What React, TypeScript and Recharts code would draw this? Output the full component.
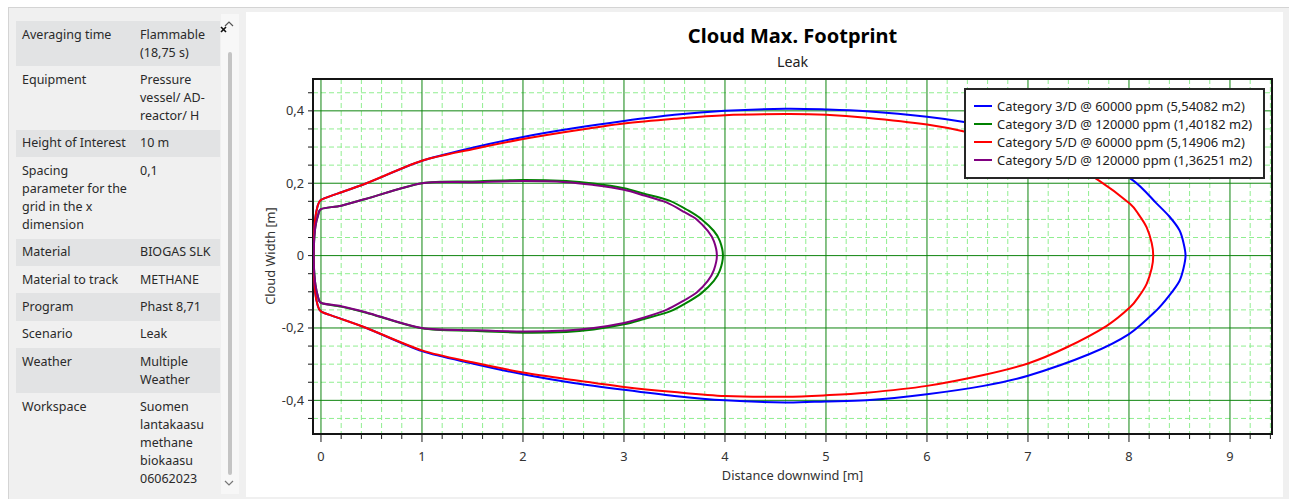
import React from 'react';
import { LineChart, Line, XAxis, YAxis, CartesianGrid, ReferenceArea, Legend } from 'recharts';

const FONT = "'Noto Sans', 'Open Sans', Arial, sans-serif";

// ---- Properties table (left panel) ----
const propertyLines: string[][] = [
  ['Averaging time'],
  ['Equipment'],
  ['Height of Interest'],
  ['Spacing', 'parameter for the', 'grid in the x', 'dimension'],
  ['Material'],
  ['Material to track'],
  ['Program'],
  ['Scenario'],
  ['Weather'],
  ['Workspace'],
];
const valueLines: string[][] = [
  ['Flammable', '(18,75 s)'],
  ['Pressure', 'vessel/ AD-', 'reactor/ H'],
  ['10 m'],
  ['0,1'],
  ['BIOGAS SLK'],
  ['METHANE'],
  ['Phast 8,71'],
  ['Leak'],
  ['Multiple', 'Weather'],
  ['Suomen', 'lantakaasu', 'methane', 'biokaasu', '06062023'],
];

// ---- Chart texts ----
const chartTitle = 'Cloud Max. Footprint';
const chartSubtitle = 'Leak';
const xAxisTitle = 'Distance downwind [m]';
const yAxisTitle = 'Cloud Width [m]';

const seriesNames = [
  'Category 3/D @ 60000 ppm (5,54082 m2)',
  'Category 3/D @ 120000 ppm (1,40182 m2)',
  'Category 5/D @ 60000 ppm (5,14906 m2)',
  'Category 5/D @ 120000 ppm (1,36251 m2)',
];
const seriesColors = ['#0000ff', '#008000', '#ff0000', '#800080'];

// ---- Axes ----
const xDomain: [number, number] = [-0.079, 9.416];
const yDomain: [number, number] = [-0.493, 0.488];
const xMajorTicks = [0, 1, 2, 3, 4, 5, 6, 7, 8, 9];
const xMinorTicks = [
  0, 0.2, 0.4, 0.6, 0.8, 1, 1.2, 1.4, 1.6, 1.8, 2, 2.2, 2.4, 2.6, 2.8, 3, 3.2, 3.4, 3.6, 3.8,
  4, 4.2, 4.4, 4.6, 4.8, 5, 5.2, 5.4, 5.6, 5.8, 6, 6.2, 6.4, 6.6, 6.8, 7, 7.2, 7.4, 7.6, 7.8,
  8, 8.2, 8.4, 8.6, 8.8, 9, 9.2, 9.4,
];
const yMajorTicks = [-0.4, -0.2, 0, 0.2, 0.4];
const yMinorTicks = [
  -0.45, -0.4, -0.35, -0.3, -0.25, -0.2, -0.15, -0.1, -0.05, 0,
  0.05, 0.1, 0.15, 0.2, 0.25, 0.3, 0.35, 0.4, 0.45,
];

// ---- Footprint contours (closed loops, x = downwind, y = width) ----
const cat3d60000X = [
  -0.075, -0.07, -0.058, -0.035, 0, 0.15, 0.45, 1.0, 1.5, 2.0, 2.5, 3.0, 3.5, 4.0, 4.6, 5.0, 5.4, 6.0, 6.4,
  7.0, 7.6, 8.04, 8.27, 8.4, 8.5, 8.54, 8.56,
  8.54, 8.5, 8.4, 8.27, 8.0, 7.61, 7.0, 6.56, 6.0, 5.4, 5.0, 4.6, 4.0, 3.5, 3.0, 2.5, 2.0, 1.5,
  1.0, 0.45, 0.15, 0, -0.035, -0.058, -0.07, -0.075,
];
const cat3d60000Y = [
  0, 0.05, 0.1, 0.135, 0.154, 0.17, 0.2, 0.262, 0.298, 0.328, 0.352, 0.372, 0.389, 0.4, 0.406, 0.404, 0.399, 0.384, 0.368,
  0.334, 0.28, 0.208, 0.145, 0.108, 0.07, 0.035, 0,
  -0.035, -0.07, -0.11, -0.152, -0.217, -0.272, -0.332, -0.36, -0.383, -0.4, -0.403, -0.406, -0.4, -0.388, -0.371, -0.352, -0.328, -0.298,
  -0.264, -0.2, -0.17, -0.154, -0.135, -0.1, -0.05, 0,
];

const cat3d120000X = [
  -0.072, -0.068, -0.055, -0.03, 0.005, 0.2, 0.45, 1.0, 1.5, 2.0, 2.43, 2.7, 3.0, 3.2, 3.45, 3.64, 3.77, 3.89, 3.95, 3.98,
  3.95, 3.89, 3.77, 3.64, 3.45, 3.2, 3.0, 2.7, 2.43, 2.0, 1.5, 1.0, 0.45, 0.2, 0.005, -0.03, -0.055, -0.068, -0.072,
];
const cat3d120000Y = [
  0, 0.04, 0.08, 0.11, 0.129, 0.138, 0.157, 0.2, 0.205, 0.209, 0.206, 0.199, 0.186, 0.171, 0.152, 0.124, 0.1, 0.068, 0.04, 0,
  -0.041, -0.07, -0.103, -0.127, -0.155, -0.175, -0.19, -0.204, -0.211, -0.213, -0.208, -0.201, -0.158, -0.141, -0.131, -0.113, -0.08, -0.04, 0,
];

const cat5d60000X = [
  -0.075, -0.07, -0.058, -0.035, 0, 0.15, 0.45, 1.0, 1.5, 2.0, 2.5, 3.0, 3.5, 4.0, 4.6, 5.0, 5.4, 6.0, 6.38,
  7.0, 7.38, 7.7, 8.01, 8.1, 8.175, 8.225, 8.24,
  8.225, 8.175, 8.1, 8.01, 7.78, 7.38, 7.0, 6.56, 6.0, 5.4, 5.0, 4.6, 4.0, 3.5, 3.0, 2.5, 2.0, 1.5,
  1.0, 0.45, 0.15, 0, -0.035, -0.058, -0.07, -0.075,
];
const cat5d60000Y = [
  0, 0.05, 0.1, 0.135, 0.154, 0.17, 0.2, 0.262, 0.294, 0.322, 0.345, 0.365, 0.378, 0.388, 0.391, 0.389, 0.381, 0.362, 0.342,
  0.298, 0.256, 0.208, 0.143, 0.112, 0.078, 0.035, 0,
  -0.035, -0.078, -0.112, -0.143, -0.194, -0.254, -0.298, -0.33, -0.36, -0.379, -0.386, -0.39, -0.388, -0.377, -0.363, -0.344, -0.323, -0.295,
  -0.262, -0.2, -0.17, -0.154, -0.135, -0.1, -0.05, 0,
];

const cat5d120000X = [
  -0.072, -0.068, -0.055, -0.03, 0.005, 0.2, 0.45, 1.0, 1.5, 2.0, 2.43, 2.7, 3.0, 3.2, 3.42, 3.6, 3.72, 3.83, 3.89, 3.92,
  3.89, 3.83, 3.72, 3.6, 3.42, 3.2, 3.0, 2.7, 2.43, 2.0, 1.5, 1.0, 0.45, 0.2, 0.005, -0.03, -0.055, -0.068, -0.072,
];
const cat5d120000Y = [
  0, 0.04, 0.08, 0.11, 0.129, 0.138, 0.157, 0.2, 0.203, 0.206, 0.203, 0.195, 0.182, 0.166, 0.147, 0.12, 0.1, 0.068, 0.04, 0,
  -0.04, -0.07, -0.102, -0.123, -0.15, -0.171, -0.186, -0.2, -0.207, -0.21, -0.206, -0.2, -0.157, -0.14, -0.131, -0.113, -0.08, -0.04, 0,
];

const toPoints = (xs: number[], ys: number[]) => xs.map((x, i) => ({ x, y: ys[i] }));

const seriesData = [
  toPoints(cat3d60000X, cat3d60000Y),
  toPoints(cat3d120000X, cat3d120000Y),
  toPoints(cat5d60000X, cat5d60000Y),
  toPoints(cat5d120000X, cat5d120000Y),
];

// Cardinal spline through the contour points, in drawing order (works for closed loops)
const contourCurve = (context: any) => {
  let pts: [number, number][] = [];
  const k = 0.14;
  return {
    areaStart() {},
    areaEnd() {},
    lineStart() {
      pts = [];
    },
    point(x: number, y: number) {
      pts.push([+x, +y]);
    },
    lineEnd() {
      if (!pts.length) return;
      context.moveTo(pts[0][0], pts[0][1]);
      for (let i = 0; i < pts.length - 1; i++) {
        const p0 = pts[i - 1] || pts[i];
        const p1 = pts[i];
        const p2 = pts[i + 1];
        const p3 = pts[i + 2] || p2;
        context.bezierCurveTo(
          p1[0] + (p2[0] - p0[0]) * k,
          p1[1] + (p2[1] - p0[1]) * k,
          p2[0] - (p3[0] - p1[0]) * k,
          p2[1] - (p3[1] - p1[1]) * k,
          p2[0],
          p2[1],
        );
      }
    },
  };
};

const isMultiple = (v: number, step: number) => Math.abs(v / step - Math.round(v / step)) < 1e-6;

const formatComma = (v: number) => {
  if (Math.abs(v) < 1e-9) return '0';
  return v.toFixed(1).replace('.', ',');
};

// grid positions: use the axis scale when it is handed over, otherwise map through the plot offset
const xGridPos = (p: any, values: number[]) => {
  const sc = p && p.xAxis && p.xAxis.scale;
  if (typeof sc === 'function') return values.map((v) => sc(v));
  const o = p.offset;
  return values.map((v) => o.left + ((v - xDomain[0]) / (xDomain[1] - xDomain[0])) * o.width);
};
const yGridPos = (p: any, values: number[]) => {
  const sc = p && p.yAxis && p.yAxis.scale;
  if (typeof sc === 'function') return values.map((v) => sc(v));
  const o = p.offset;
  return values.map((v) => o.top + ((yDomain[1] - v) / (yDomain[1] - yDomain[0])) * o.height);
};

const XTick = (props: any) => {
  const { x, y, payload } = props;
  const v = payload.value as number;
  const major = isMultiple(v, 1);
  return (
    <g>
      <line x1={x} x2={x} y1={y} y2={y + (major ? 8 : 5)} stroke="#1a1a1a" strokeWidth={1} />
      {major && xMajorTicks.includes(Math.round(v)) && (
        <text x={x} y={y + 27} textAnchor="middle" fontSize={12.8} fontFamily={FONT} fill="#333">
          {Math.round(v)}
        </text>
      )}
    </g>
  );
};

const YTick = (props: any) => {
  const { x, y, payload } = props;
  const v = payload.value as number;
  const major = yMajorTicks.some((t) => Math.abs(t - v) < 1e-9);
  return (
    <g>
      <line x1={x - 5} x2={x} y1={y} y2={y} stroke="#1a1a1a" strokeWidth={1} />
      {major && (
        <text x={x - 9} y={y + 4.5} textAnchor="end" fontSize={12.8} fontFamily={FONT} fill="#333">
          {formatComma(v)}
        </text>
      )}
    </g>
  );
};

const LegendBox = () => (
  <div
    style={{
      width: 301,
      height: 91,
      boxSizing: 'border-box',
      border: '2px solid #262626',
      background: '#fff',
      padding: '7px 0 0 8px',
      fontFamily: FONT,
      fontSize: 12.9,
      color: '#222',
    }}
  >
    {seriesNames.map((name, i) => (
      <div key={name} style={{ display: 'flex', alignItems: 'center', height: 18, whiteSpace: 'nowrap' }}>
        <span style={{ display: 'inline-block', width: 18, height: 2, background: seriesColors[i], marginRight: 5 }} />
        <span>{name}</span>
      </div>
    ))}
  </div>
);

const PropertiesPanel = () => {
  const lineH = 18.1;
  return (
    <div style={{ position: 'absolute', left: 16, top: 21, width: 204, fontFamily: FONT, fontSize: 12.5, color: '#2a2a2a' }}>
      {propertyLines.map((pl, i) => {
        const n = Math.max(pl.length, valueLines[i].length);
        return (
          <div
            key={i}
            style={{
              display: 'flex',
              height: n * lineH + 9.2,
              boxSizing: 'border-box',
              paddingTop: 4.6,
              background: i % 2 === 0 ? '#e2e3e4' : 'transparent',
              lineHeight: `${lineH}px`,
              whiteSpace: 'nowrap',
            }}
          >
            <div style={{ width: 118, paddingLeft: 6, boxSizing: 'border-box' }}>
              {pl.map((t, k) => (
                <div key={k}>{t}</div>
              ))}
            </div>
            <div style={{ paddingLeft: 6 }}>
              {valueLines[i].map((t, k) => (
                <div key={k}>{t}</div>
              ))}
            </div>
          </div>
        );
      })}
    </div>
  );
};

export default function App() {
  return (
    <div style={{ position: 'absolute', left: 0, top: 0, width: 1289, height: 499, background: '#fff', overflow: 'hidden' }}>
      {/* outer frame */}
      <div
        style={{
          position: 'absolute',
          left: 8,
          top: 7,
          width: 1281,
          height: 492,
          background: '#f0f0f0',
          borderTop: '1px solid #d4d4d4',
          borderLeft: '1px solid #d4d4d4',
          boxSizing: 'border-box',
        }}
      />
      <PropertiesPanel />
      {/* scroll bar */}
      <div style={{ position: 'absolute', left: 221, top: 14, width: 18, height: 480, background: '#f7f7f7' }} />
      <div style={{ position: 'absolute', left: 228, top: 52, width: 4, height: 423, background: '#c4c4c4', borderRadius: 2 }} />
      <svg style={{ position: 'absolute', left: 216, top: 14 }} width={26} height={484}>
        <polyline points="9,12 13,8 17,12" fill="none" stroke="#555" strokeWidth={1.2} />
        <polyline points="9,467 13,471 17,467" fill="none" stroke="#777" strokeWidth={1.2} />
        <line x1={5} y1={13} x2={10} y2={18} stroke="#111" strokeWidth={1.6} />
        <line x1={10} y1={13} x2={5} y2={18} stroke="#111" strokeWidth={1.6} />
      </svg>

      {/* chart panel */}
      <div style={{ position: 'absolute', left: 246, top: 12, width: 1037, height: 485, background: '#fff' }}>
        <LineChart width={1037} height={485} margin={{ top: 67, right: 11, left: 27, bottom: 23 }}>
          <CartesianGrid
            stroke="#90ee90"
            strokeDasharray="5 3"
            verticalCoordinatesGenerator={(p: any) => xGridPos(p, xMinorTicks.filter((v) => !isMultiple(v, 1)))}
            horizontalCoordinatesGenerator={(p: any) => yGridPos(p, yMinorTicks.filter((v) => !isMultiple(v, 0.2)))}
          />
          <CartesianGrid
            stroke="#0f850f"
            verticalCoordinatesGenerator={(p: any) => xGridPos(p, xMajorTicks)}
            horizontalCoordinatesGenerator={(p: any) => yGridPos(p, yMajorTicks)}
          />
          <XAxis
            type="number"
            dataKey="x"
            domain={xDomain}
            allowDataOverflow
            ticks={xMinorTicks}
            interval={0}
            tick={<XTick />}
            tickLine={false}
            axisLine={false}
            tickSize={0}
            tickMargin={0}
            height={40}
          />
          <YAxis
            type="number"
            dataKey="y"
            domain={yDomain}
            allowDataOverflow
            ticks={yMinorTicks}
            interval={0}
            tick={<YTick />}
            tickLine={false}
            axisLine={false}
            tickSize={0}
            tickMargin={0}
            width={40}
          />
          <ReferenceArea
            x1={xDomain[0]}
            x2={xDomain[1]}
            y1={yDomain[0]}
            y2={yDomain[1]}
            fill="none"
            fillOpacity={0}
            stroke="#141414"
            strokeWidth={2}
            ifOverflow="visible"
          />
          {seriesData.map((d, i) => (
            <Line
              key={seriesNames[i]}
              data={d}
              dataKey="y"
              name={seriesNames[i]}
              type={contourCurve as any}
              stroke={seriesColors[i]}
              strokeWidth={2}
              dot={false}
              activeDot={false}
              isAnimationActive={false}
            />
          ))}
          <Legend
            layout="vertical"
            align="center"
            verticalAlign="middle"
            content={() => <LegendBox />}
            wrapperStyle={{ left: 718, top: 76, width: 301, height: 91 }}
          />
        </LineChart>

        {/* titles */}
        <div
          style={{
            position: 'absolute',
            left: 67,
            width: 959,
            top: 11,
            textAlign: 'center',
            fontFamily: FONT,
            fontWeight: 700,
            fontSize: 20,
            color: '#000',
            lineHeight: '26px',
          }}
        >
          {chartTitle}
        </div>
        <div
          style={{
            position: 'absolute',
            left: 67,
            width: 959,
            top: 40,
            textAlign: 'center',
            fontFamily: FONT,
            fontSize: 14.3,
            color: '#222',
            lineHeight: '20px',
          }}
        >
          {chartSubtitle}
        </div>
        <div
          style={{
            position: 'absolute',
            left: 67,
            width: 959,
            top: 453,
            textAlign: 'center',
            fontFamily: FONT,
            fontSize: 12.8,
            color: '#333',
            lineHeight: '20px',
          }}
        >
          {xAxisTitle}
        </div>
        <div
          style={{
            position: 'absolute',
            left: 24 - 100,
            top: 244 - 10,
            width: 200,
            height: 20,
            lineHeight: '20px',
            textAlign: 'center',
            transform: 'rotate(-90deg)',
            fontFamily: FONT,
            fontSize: 12.8,
            color: '#333',
          }}
        >
          {yAxisTitle}
        </div>
      </div>
    </div>
  );
}
